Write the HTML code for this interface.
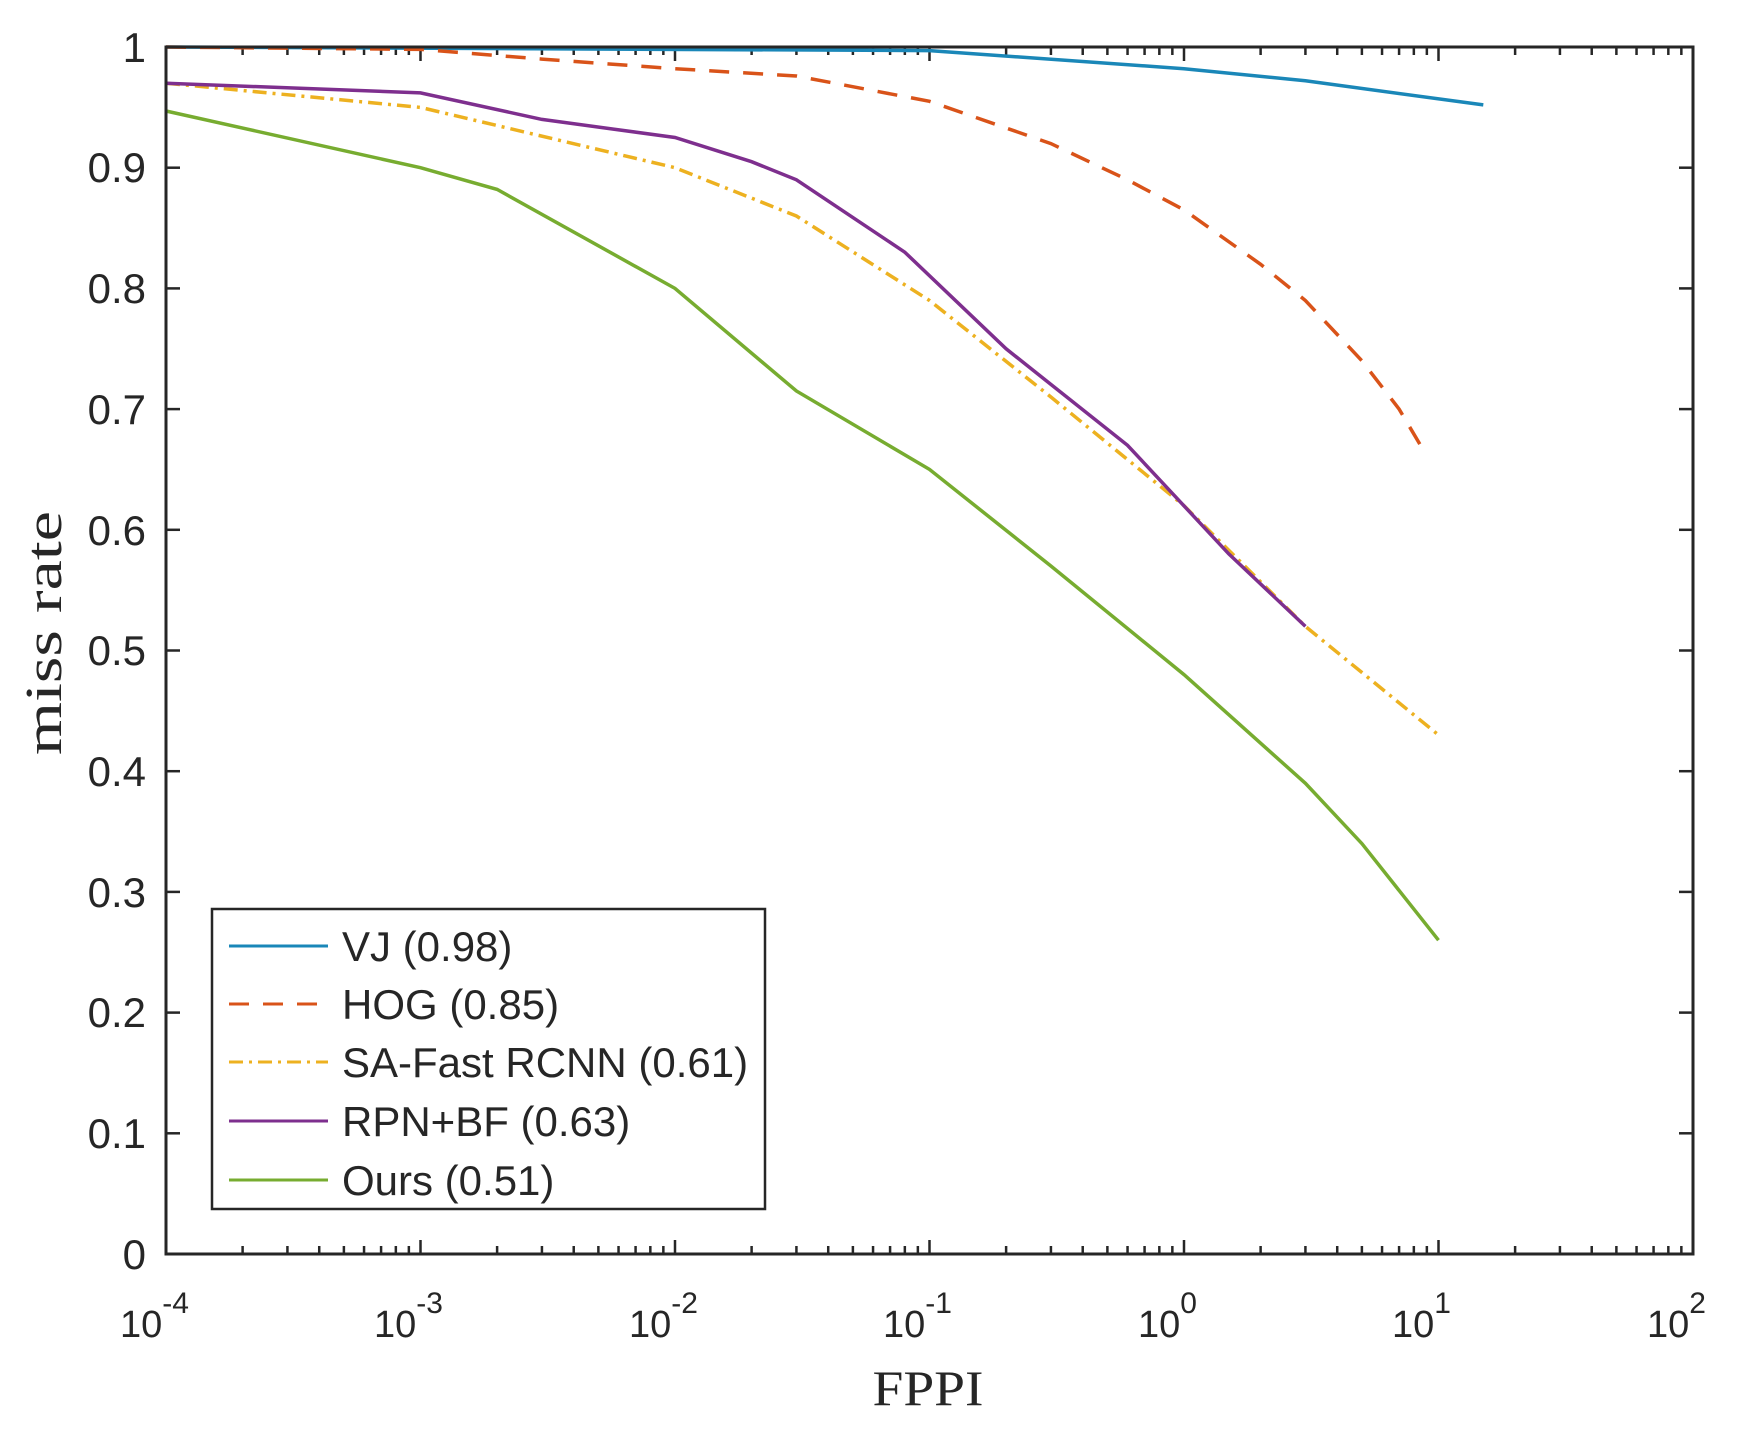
<!DOCTYPE html>
<html><head><meta charset="utf-8"><style>
html,body{margin:0;padding:0;background:#fff;}
svg{display:block;}
text{font-family:"Liberation Sans",Arial,sans-serif;fill:#262626;}
.serif{font-family:"Liberation Serif","Times New Roman",serif;}
</style></head><body>
<svg id="s" width="1764" height="1436" viewBox="0 0 1764 1436" xmlns="http://www.w3.org/2000/svg">
<rect width="1764" height="1436" fill="#fff"/>
<g id="ticks" stroke="#262626" stroke-width="2.5"></g>
<g id="series" fill="none" stroke-width="3.5"></g>
<rect x="166" y="47" width="1527" height="1207" fill="none" stroke="#262626" stroke-width="3"/>
<g font-size="42" text-anchor="end">
<text x="146" y="62">1</text>
<text x="146" y="182">0.9</text>
<text x="146" y="303">0.8</text>
<text x="146" y="424">0.7</text>
<text x="146" y="545">0.6</text>
<text x="146" y="665">0.5</text>
<text x="146" y="786">0.4</text>
<text x="146" y="907">0.3</text>
<text x="146" y="1027">0.2</text>
<text x="146" y="1148">0.1</text>
<text x="146" y="1269">0</text>
</g>
<g font-size="38">
<text x="120" y="1337">10<tspan font-size="30" dy="-24">-4</tspan></text>
<text x="374" y="1337">10<tspan font-size="30" dy="-24">-3</tspan></text>
<text x="629" y="1337">10<tspan font-size="30" dy="-24">-2</tspan></text>
<text x="883" y="1337">10<tspan font-size="30" dy="-24">-1</tspan></text>
<text x="1138" y="1337">10<tspan font-size="30" dy="-24">0</tspan></text>
<text x="1392" y="1337">10<tspan font-size="30" dy="-24">1</tspan></text>
<text x="1647" y="1337">10<tspan font-size="30" dy="-24">2</tspan></text>
</g>
<text class="serif" x="928" y="1405" font-size="50" text-anchor="middle" textLength="111" lengthAdjust="spacingAndGlyphs">FPPI</text>
<text class="serif" x="0" y="0" font-size="52" text-anchor="middle" textLength="244" lengthAdjust="spacingAndGlyphs" transform="translate(61,633) rotate(-90)">miss rate</text>
<rect x="212" y="909" width="553" height="300" fill="#fff" stroke="#262626" stroke-width="2.5"/>
<g stroke-width="3">
<line x1="229" y1="946" x2="328" y2="946" stroke="#1a87b8"/>
<line x1="229" y1="1004" x2="328" y2="1004" stroke="#D95319" stroke-dasharray="20,14"/>
<line x1="229" y1="1062" x2="328" y2="1062" stroke="#EDB120" stroke-dasharray="14,6,3,6"/>
<line x1="229" y1="1121" x2="328" y2="1121" stroke="#7E2F8E"/>
<line x1="229" y1="1180" x2="328" y2="1180" stroke="#77AC30"/>
</g>
<g font-size="42">
<text x="342" y="961">VJ (0.98)</text>
<text x="342" y="1019">HOG (0.85)</text>
<text x="342" y="1077">SA-Fast RCNN (0.61)</text>
<text x="342" y="1136">RPN+BF (0.63)</text>
<text x="342" y="1195">Ours (0.51)</text>
</g>
</svg>
<script>
(function(){
var L=166,R=1693,T=47,B=1254,D=254.5;
function X(f){return L+(Math.log10(f)+4)*D;}
function Y(v){return B-v*(B-T);}
var NS="http://www.w3.org/2000/svg";
var tg=document.getElementById("ticks");
function ln(x1,y1,x2,y2){var l=document.createElementNS(NS,"line");l.setAttribute("x1",x1);l.setAttribute("y1",y1);l.setAttribute("x2",x2);l.setAttribute("y2",y2);tg.appendChild(l);}
for(var d=-4;d<=2;d++){var x=X(Math.pow(10,d));ln(x,B,x,B-14);ln(x,T,x,T+14);
 if(d<2)for(var k=2;k<=9;k++){var xm=X(k*Math.pow(10,d));ln(xm,B,xm,B-8);ln(xm,T,xm,T+8);}}
for(var i=0;i<=10;i++){var y=Y(i/10);ln(L,y,L+14,y);ln(R,y,R-14,y);}
var S=[
["#1a87b8","",[[1e-4,1.0],[0.1,0.997],[1,0.982],[3,0.972],[15,0.952]]],
["#D95319","20,14",[[1e-4,1.0],[1e-3,0.998],[3e-3,0.99],[1e-2,0.982],[3e-2,0.976],[0.1,0.955],[0.3,0.92],[0.6,0.89],[1,0.865],[2,0.82],[3,0.79],[5,0.74],[7,0.70],[8.5,0.67]]],
["#EDB120","14,6,3,6",[[1e-4,0.97],[1e-3,0.95],[1e-2,0.9],[3e-2,0.86],[0.1,0.79],[0.3,0.71],[1,0.62],[3,0.52],[10,0.43]]],
["#7E2F8E","",[[1e-4,0.97],[1e-3,0.962],[3e-3,0.94],[1e-2,0.925],[2e-2,0.905],[3e-2,0.89],[0.08,0.83],[0.2,0.75],[0.6,0.67],[1.5,0.58],[3,0.52]]],
["#77AC30","",[[1e-4,0.947],[1e-3,0.9],[2e-3,0.882],[1e-2,0.8],[3e-2,0.715],[0.1,0.65],[0.3,0.57],[1,0.48],[3,0.39],[5,0.34],[10,0.26]]]
];
var sg=document.getElementById("series");
S.forEach(function(s){var p=document.createElementNS(NS,"polyline");
p.setAttribute("points",s[2].map(function(q){return X(q[0]).toFixed(1)+","+Y(q[1]).toFixed(1);}).join(" "));
p.setAttribute("stroke",s[0]);if(s[1])p.setAttribute("stroke-dasharray",s[1]);sg.appendChild(p);});
})();
</script>
</body></html>
